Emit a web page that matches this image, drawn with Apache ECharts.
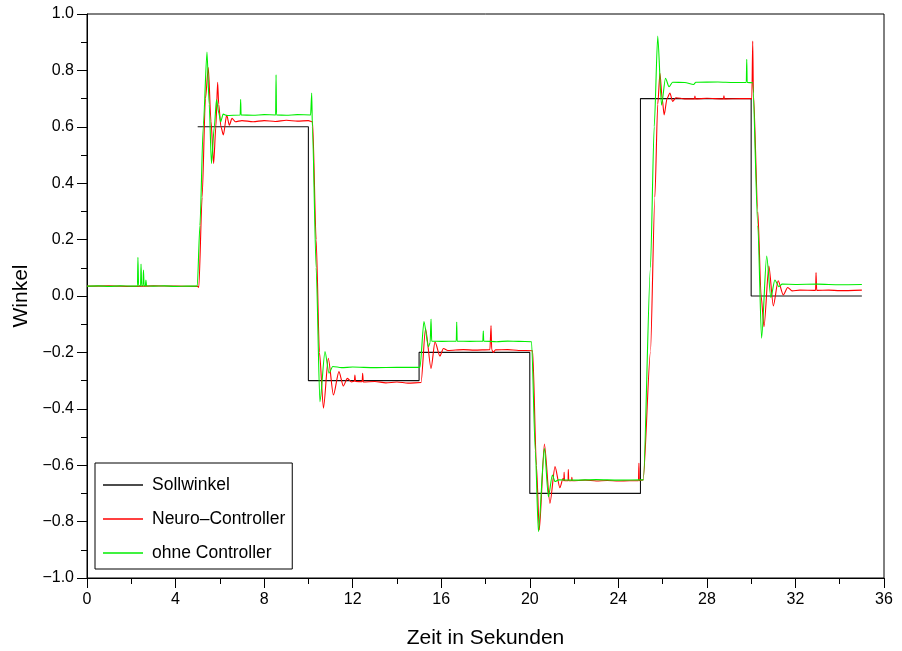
<!DOCTYPE html>
<html>
<head>
<meta charset="utf-8">
<script src="https://cdn.jsdelivr.net/npm/echarts@6/dist/echarts.min.js"></script>
<style>
  html, body { margin: 0; padding: 0; background: #fff; }
  #chart { width: 902px; height: 651px; }
</style>
</head>
<body>
<div id="chart"></div>
<script>
  // Sollwinkel (Sprungfolge)
  var sollData = [
    [5, 0.6], [10, 0.6], [10, -0.3], [15, -0.3], [15, -0.2], [20, -0.2],
    [20, -0.7], [25, -0.7], [25, 0.7], [30, 0.7], [30, 0], [35, 0]
  ]

  // Neuro-Controller (rot)
  var neuroData = [
    [0, 0.035], [1, 0.036], [2, 0.034], [3, 0.036], [4, 0.035], [5.0, 0.034],
    [5.05, 0.03], [5.2, 0.35], [5.35, 0.7], [5.48, 0.81], [5.6, 0.62], [5.72, 0.47],
    [5.82, 0.6], [5.9, 0.758], [5.95, 0.68], [6.05, 0.6], [6.16, 0.571], [6.31, 0.642],
    [6.43, 0.606], [6.55, 0.63], [6.7, 0.618], [7, 0.622], [7.5, 0.618], [8, 0.622],
    [8.5, 0.619], [9, 0.623], [9.5, 0.62], [10.0, 0.622], [10.19, 0.618],
    [10.35, 0.2], [10.5, -0.2], [10.68, -0.398], [10.9, -0.221], [11.13, -0.351],
    [11.38, -0.268], [11.58, -0.319], [11.76, -0.292], [11.95, -0.305], [12.08, -0.302],
    [12.1, -0.28], [12.13, -0.303], [12.43, -0.304], [12.45, -0.274], [12.48, -0.305],
    [13, -0.303], [13.5, -0.308], [14, -0.305], [14.5, -0.309], [15.09, -0.307],
    [15.29, -0.115], [15.54, -0.257], [15.72, -0.162], [15.94, -0.213], [16.1, -0.186],
    [16.3, -0.193], [17, -0.19], [17.5, -0.192], [18.2, -0.19], [18.25, -0.105],
    [18.28, -0.19], [18.35, -0.2], [18.45, -0.191], [19, -0.19], [19.5, -0.193],
    [20.13, -0.194], [20.3, -0.6], [20.43, -0.83], [20.66, -0.525], [20.91, -0.735],
    [21.14, -0.605], [21.36, -0.68], [21.5, -0.647], [21.54, -0.655], [21.55, -0.625],
    [21.57, -0.655], [21.73, -0.655], [21.74, -0.615], [21.76, -0.655], [21.89, -0.655],
    [21.9, -0.643], [21.92, -0.655], [22.5, -0.653], [23, -0.656], [23.5, -0.654],
    [24, -0.656], [24.5, -0.655], [24.91, -0.655], [24.93, -0.593], [24.95, -0.655],
    [25.12, -0.652], [25.45, -0.2], [25.65, 0.35], [25.78, 0.68], [25.88, 0.79],
    [25.98, 0.7], [26.07, 0.642], [26.2, 0.7], [26.33, 0.72], [26.45, 0.69],
    [26.6, 0.703], [27, 0.699], [27.44, 0.699], [27.46, 0.709], [27.48, 0.699],
    [28, 0.701], [28.75, 0.699], [28.77, 0.71], [28.79, 0.699], [29.5, 0.7],
    [30.03, 0.7], [30.07, 0.904], [30.1, 0.72], [30.3, 0.3], [30.45, 0.0],
    [30.58, -0.109], [30.8, 0.106], [31.0, -0.035], [31.22, 0.054], [31.45, 0.004],
    [31.65, 0.03], [31.85, 0.018], [32.2, 0.021], [32.91, 0.02], [32.93, 0.083],
    [32.96, 0.02], [33.5, 0.021], [34, 0.019], [35, 0.021]
  ]

  // ohne Controller (gruen)
  var ohneData = [
    [0, 0.035], [0.5, 0.036], [1, 0.034], [1.5, 0.036], [2, 0.035], [2.28, 0.035],
    [2.3, 0.137], [2.33, 0.036], [2.42, 0.036], [2.44, 0.113], [2.47, 0.036],
    [2.53, 0.036], [2.55, 0.092], [2.58, 0.036], [2.64, 0.036], [2.66, 0.057],
    [2.69, 0.036], [3, 0.035], [3.5, 0.036], [4, 0.034], [4.5, 0.035], [4.98, 0.035],
    [5.1, 0.25], [5.25, 0.6], [5.42, 0.865], [5.52, 0.68], [5.62, 0.47], [5.75, 0.6],
    [5.85, 0.697], [5.95, 0.65], [6.04, 0.618], [6.15, 0.645], [6.3, 0.64],
    [6.92, 0.642], [6.94, 0.697], [6.96, 0.642], [7.5, 0.641], [8, 0.643],
    [8.52, 0.642], [8.54, 0.784], [8.56, 0.642], [9, 0.641], [9.5, 0.643],
    [10.1, 0.642], [10.15, 0.72], [10.18, 0.6], [10.35, 0.1], [10.52, -0.375],
    [10.75, -0.197], [10.93, -0.274], [11.1, -0.25], [11.5, -0.254], [12, -0.252],
    [13, -0.254], [14, -0.253], [15.04, -0.253], [15.22, -0.091], [15.42, -0.18],
    [15.5, -0.165], [15.54, -0.082], [15.57, -0.16], [16, -0.161], [16.68, -0.16],
    [16.7, -0.092], [16.72, -0.16], [17.3, -0.161], [17.88, -0.16], [17.9, -0.124],
    [17.92, -0.16], [18.5, -0.162], [19, -0.16], [19.5, -0.161], [20.08, -0.162],
    [20.25, -0.55], [20.39, -0.836], [20.66, -0.54], [20.84, -0.712], [21.02, -0.635],
    [21.14, -0.658], [21.3, -0.652], [22, -0.653], [23, -0.651], [24, -0.653],
    [25.13, -0.652], [25.45, 0.1], [25.62, 0.6], [25.78, 0.922], [25.95, 0.677],
    [26.13, 0.772], [26.29, 0.742], [26.45, 0.758], [27, 0.757], [27.4, 0.75],
    [27.5, 0.758], [28.5, 0.759], [29.2, 0.757], [29.78, 0.757], [29.8, 0.839],
    [29.82, 0.757], [30.07, 0.756], [30.3, 0.25], [30.47, -0.15], [30.7, 0.142],
    [30.89, -0.005], [31.07, 0.057], [31.25, 0.033], [31.4, 0.042], [32, 0.041],
    [33, 0.042], [34, 0.04], [35, 0.041]
  ]

  var seriesNames = ['Sollwinkel', 'Neuro\u2013Controller', 'ohne Controller']
  var seriesColors = ['#111111', '#ff0000', '#00ee00']
  var seriesSmooth = [false, 0.25, 0.25]

  var fontFam = '"Liberation Sans", Arial, Helvetica, sans-serif'

  var chart = echarts.init(document.getElementById('chart'), null, { renderer: 'canvas' })

  chart.setOption({
    animation: false,
    backgroundColor: '#fff',
    textStyle: { fontFamily: fontFam },
    grid: {
      left: 87, right: 18, top: 14, bottom: 73,
      outerBoundsMode: 'none',
      show: true,
      borderColor: '#000',
      borderWidth: 1
    },
    xAxis: {
      type: 'value',
      min: 0, max: 36, interval: 4,
      name: 'Zeit in Sekunden',
      nameLocation: 'middle',
      nameGap: 50,
      nameTextStyle: { fontSize: 21, color: '#000', fontFamily: fontFam },
      axisLine: { onZero: false, lineStyle: { color: '#000', width: 1 } },
      axisTick: { inside: false, length: 10, lineStyle: { color: '#000' } },
      minorTick: { show: true, splitNumber: 2, length: 6, lineStyle: { color: '#000' } },
      axisLabel: { fontSize: 16, color: '#000', margin: 14, fontFamily: fontFam },
      splitLine: { show: false }
    },
    yAxis: {
      type: 'value',
      min: -1, max: 1, interval: 0.2,
      name: 'Winkel',
      nameLocation: 'middle',
      nameGap: 49,
      nameRotate: 90,
      nameTextStyle: { fontSize: 21, color: '#000', fontFamily: fontFam },
      axisLine: { onZero: false, lineStyle: { color: '#000', width: 1 } },
      axisTick: { inside: false, length: 10, lineStyle: { color: '#000' } },
      minorTick: { show: true, splitNumber: 2, length: 6, lineStyle: { color: '#000' } },
      axisLabel: {
        fontSize: 16, color: '#000', margin: 13, fontFamily: fontFam,
        formatter: function (v) { return v.toFixed(1).replace('-', '\u2212') }
      },
      splitLine: { show: false }
    },
    legend: {
      left: 95, top: 463,
      orient: 'vertical',
      padding: [13, 7, 7, 8],
      itemGap: 16,
      itemWidth: 40,
      itemHeight: 1.5,
      icon: 'rect',
      borderColor: '#000',
      borderWidth: 1,
      backgroundColor: '#fff',
      textStyle: { fontSize: 17.5, color: '#000', fontFamily: fontFam, padding: [0, 0, 0, 4] },
      data: seriesNames
    },
    series: [
      { name: seriesNames[0], data: sollData },
      { name: seriesNames[1], data: neuroData },
      { name: seriesNames[2], data: ohneData }
    ].map(function (s, i) {
      return {
        name: s.name,
        type: 'line',
        data: s.data,
        showSymbol: false,
        symbol: 'none',
        smooth: seriesSmooth[i],
        smoothMonotone: 'x',
        itemStyle: { color: seriesColors[i] },
        lineStyle: { color: seriesColors[i], width: 1.1 },
        z: 2 + i
      }
    })
  })
</script>
</body>
</html>
